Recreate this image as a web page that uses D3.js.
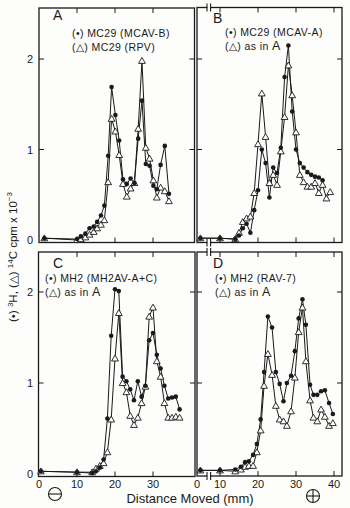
<!DOCTYPE html>
<html><head><meta charset="utf-8">
<script src="https://cdn.jsdelivr.net/npm/d3@7/dist/d3.min.js"></script>
<style>
html,body{margin:0;padding:0;background:#fdfdfb;}
svg{display:block;}
text{font-family:"Liberation Sans","DejaVu Sans",sans-serif;fill:#1a1a1a;}
</style></head>
<body>
<svg id="c" width="350" height="508"></svg>
<script>
// ---------- DATA ----------
const panelLetters = ["A", "B", "C", "D"];
const legendFilled = ["(\u2022) MC29 (MCAV-B)", "(\u2022) MC29 (MCAV-A)", "(\u2022) MH2 (MH2AV-A+C)", "(\u2022) MH2 (RAV-7)"];
const legendOpen = ["(\u25B3) MC29 (RPV)", "(\u25B3) as in ", "(\u25B3) as in ", "(\u25B3) as in "];
const yTicks = [0, 1, 2];
const xTicksAC = [0, 10, 20, 30];
const xTicksBD = [0, 10, 20, 30, 40];
const xLabel = "Distance Moved (mm)";

// Panel A
const xA = [1.4, 10, 11, 12.2, 13.3, 14.4, 15.3, 16.3, 17.2, 18.2, 19.1, 20.1, 21.1, 22.1, 23.1, 24.1, 25.1, 26.1, 27.1, 28.1, 29.1, 30.1, 31, 32, 33.1, 34.2];
const filledA = [0.02, 0.01, 0.04, 0.07, 0.13, 0.15, 0.2, 0.27, 0.38, 0.93, 1.69, 1.38, 1.1, 0.67, 0.62, 0.68, 0.63, 1.12, 1.54, 0.84, 0.82, 0.6, 0.56, 0.83, 1.04, 0.51];
const openA   = [0.02, 0.0, 0.01, 0.03, 0.06, 0.09, 0.13, 0.17, 0.22, 0.64, 1.34, 1.2, 0.94, 0.62, 0.48, 0.57, 0.63, 1.23, 1.98, 1.02, 0.9, 0.66, 0.47, 0.58, 0.54, 0.43];

// Panel B
const xB = [1.3, 10, 14, 15, 16, 17, 18, 19, 20, 21, 22, 23, 24, 25, 26, 27, 28, 29, 30, 31, 32, 33, 34, 35, 36, 37, 38, 39];
const filledB = [0.02, 0.02, 0.01, 0.05, 0.13, 0.18, 0.08, 0.33, 0.55, 1.0, 0.85, 0.47, 0.8, 0.74, 1.02, 1.8, 2.15, 1.42, 1.0, 0.85, 0.8, 0.75, 0.72, 0.7, 0.69, 0.66, null, null];
const openB   = [0.02, 0.02, 0.01, 0.08, 0.2, 0.24, 0.26, 0.52, 1.06, 1.62, 1.14, 0.63, 0.72, 0.61, 0.98, 1.36, 1.93, 1.6, 1.19, 0.72, 0.64, 0.59, 0.59, 0.63, 0.52, 0.61, 0.46, 0.53];

// Panel C
const xC = [0.5, 10, 14, 15, 16, 17, 18, 19, 20, 21, 22, 23, 24, 25, 26, 27, 28, 29, 30, 31, 32, 33, 34, 35, 36, 37];
const filledC = [0.03, 0.02, 0.01, 0.03, 0.07, 0.16, 0.61, 1.52, 2.03, 2.01, 1.07, 1.02, 0.93, 0.81, 1.02, 0.85, 0.97, 1.47, 1.55, 1.31, 1.16, 0.97, 0.83, 0.84, 0.85, 0.71];
const openC   = [0.03, 0.02, 0.02, 0.06, 0.09, 0.12, 0.24, 0.6, 1.27, 1.77, 1.0, 0.9, 0.64, 0.54, 0.62, 0.78, 0.96, 1.73, 1.83, 1.24, 1.07, 0.78, 0.62, 0.62, 0.63, 0.62];

// Panel D
const xD = [1.3, 10, 14, 15.5, 16.6, 17.6, 18.7, 19.7, 20.7, 21.6, 22.6, 23.7, 24.7, 25.7, 26.7, 27.6, 28.7, 29.7, 30.7, 31.7, 32.6, 33.7, 34.6, 35.6, 36.6, 37.6, 38.7, 39.7];
const filledD = [0.04, 0.04, 0.05, 0.08, 0.13, 0.14, 0.21, 0.33, 0.6, 1.12, 1.73, 1.61, 1.12, 0.99, 0.8, 1.0, 1.08, 1.35, 1.71, 1.92, 1.64, 0.98, 0.87, 0.87, 0.91, 0.92, 0.78, 0.66];
const openD   = [0.04, 0.04, 0.03, 0.05, 0.08, 0.09, 0.09, 0.24, 0.48, 0.97, 1.32, 1.09, 0.75, 0.6, 0.58, 0.53, 0.69, 1.06, 1.56, 1.83, 1.24, 0.81, 0.62, 0.58, 0.71, 0.63, 0.53, 0.56];

// ---------- LAYOUT ----------
const ink = "#1a1a1a";
const svg = d3.select("#c");
const panels = [
  {x: xA, f: filledA, o: openA, box: [39, 8, 194.5, 242.5], broken: false, ylab: true,  xlab: false,
   letterPos: [53, 20], legPos: [72, 36.5], legDy: 14.5},
  {x: xB, f: filledB, o: openB, box: [197, 7.5, 342, 242.5], broken: true, ylab: false, xlab: false,
   letterPos: [213, 23], legPos: [225, 35.5], legDy: 14.5},
  {x: xC, f: filledC, o: openC, box: [38.5, 252, 195, 476.5], broken: false, ylab: true, xlab: true,
   letterPos: [53, 268], legPos: [45, 281.5], legDy: 14.5},
  {x: xD, f: filledD, o: openD, box: [197, 252, 342, 476], broken: true, ylab: false, xlab: true,
   letterPos: [213, 268], legPos: [215, 281.5], legDy: 14.5}
];

panels.forEach((p, i) => {
  const [bx0, by0, bx1, by1] = p.box;
  const xs = p.broken
    ? d3.scaleLinear().domain([0, 10, 40]).range([197.5, 220, 334])
    : d3.scaleLinear().domain([0, 40]).range([39, 191]);
  const ys = i < 2
    ? d3.scaleLinear().domain([0, 2]).range([240, 59])
    : d3.scaleLinear().domain([0, 2]).range([474, 292]);
  const g = svg.append("g");

  // frame
  g.append("rect").attr("x", bx0).attr("y", by0).attr("width", bx1 - bx0).attr("height", by1 - by0)
    .attr("fill", "none").attr("stroke", ink).attr("stroke-width", 1.3);

  // y ticks (inward on both sides)
  const tk = 5;
  [1, 2].forEach(v => {
    g.append("line").attr("x1", bx0).attr("x2", bx0 + tk).attr("y1", ys(v)).attr("y2", ys(v)).attr("stroke", ink).attr("stroke-width", 1);
    g.append("line").attr("x1", bx1).attr("x2", bx1 - tk).attr("y1", ys(v)).attr("y2", ys(v)).attr("stroke", ink).attr("stroke-width", 1);
  });
  // x ticks
  const xt = p.broken ? [10, 20, 30, 40] : [10, 20, 30];
  xt.forEach(v => {
    g.append("line").attr("x1", xs(v)).attr("x2", xs(v)).attr("y1", by0).attr("y2", by0 + tk).attr("stroke", ink).attr("stroke-width", 1);
    g.append("line").attr("x1", xs(v)).attr("x2", xs(v)).attr("y1", by1).attr("y2", by1 - tk).attr("stroke", ink).attr("stroke-width", 1);
  });

  // y tick labels
  if (p.ylab) {
    yTicks.forEach(v => {
      g.append("text").attr("x", 30).attr("y", ys(v) + 4).attr("text-anchor", "middle")
        .attr("font-size", 11).text(v);
    });
  }
  // x tick labels
  if (p.xlab) {
    const labs = p.broken ? xTicksBD : xTicksAC;
    labs.forEach(v => {
      const px = (p.broken && v === 0) ? 197 : xs(v);
      g.append("text").attr("x", px).attr("y", 488).attr("text-anchor", "middle")
        .attr("font-size", 11).text(v);
    });
  }

  // series lines
  const pts = (vals) => p.x.map((xv, k) => ({x: xv, y: vals[k]})).filter(d => d.y !== null);
  const line = d3.line().x(d => xs(d.x)).y(d => ys(d.y));
  g.append("path").attr("d", line(pts(p.o))).attr("fill", "none").attr("stroke", ink).attr("stroke-width", 1);
  g.append("path").attr("d", line(pts(p.f))).attr("fill", "none").attr("stroke", ink).attr("stroke-width", 1);

  // markers
  const tri = d3.symbol().type(d3.symbolTriangle).size(20);
  g.selectAll(".t").data(pts(p.o)).join("path")
    .attr("d", tri).attr("transform", d => `translate(${xs(d.x)},${ys(d.y) + 0.6})`)
    .attr("fill", "#fff").attr("stroke", ink).attr("stroke-width", 0.9);
  g.selectAll(".c").data(pts(p.f)).join("circle")
    .attr("cx", d => xs(d.x)).attr("cy", d => ys(d.y)).attr("r", 2.3).attr("fill", ink);

  // axis break marks
  if (p.broken) {
    [by0, by1].forEach(by => {
      g.append("rect").attr("x", 207.3).attr("y", by - 2).attr("width", 3).attr("height", 4).attr("fill", "#fdfdfb");
      [207, 210.6].forEach(bx => {
        g.append("line").attr("x1", bx).attr("x2", bx).attr("y1", by - 4).attr("y2", by + 4)
          .attr("stroke", ink).attr("stroke-width", 1.1);
      });
    });
  }

  // letter + legend
  g.append("text").attr("x", p.letterPos[0]).attr("y", p.letterPos[1]).attr("font-size", 14).text(panelLetters[i]);
  g.append("text").attr("x", p.legPos[0]).attr("y", p.legPos[1]).attr("font-size", 10.5)
    .attr("letter-spacing", 0.4).text(legendFilled[i]);
  const t2 = g.append("text").attr("x", p.legPos[0]).attr("y", p.legPos[1] + p.legDy).attr("font-size", 10.5)
    .attr("letter-spacing", 0.4);
  t2.append("tspan").text(legendOpen[i]);
  if (i > 0) t2.append("tspan").attr("font-size", 12.5).text("A");
});

// x axis title
svg.append("text").attr("x", 190).attr("y", 503).attr("text-anchor", "middle").attr("font-size", 13).text(xLabel);

// electrode symbols
function electrode(cx, cy, plus) {
  const g = svg.append("g");
  g.append("circle").attr("cx", cx).attr("cy", cy).attr("r", 6.5).attr("fill", "none").attr("stroke", ink).attr("stroke-width", 1.1);
  g.append("line").attr("x1", cx - 6.5).attr("x2", cx + 6.5).attr("y1", cy).attr("y2", cy).attr("stroke", ink).attr("stroke-width", 1.1);
  if (plus) g.append("line").attr("x1", cx).attr("x2", cx).attr("y1", cy - 6.5).attr("y2", cy + 6.5).attr("stroke", ink).attr("stroke-width", 1.1);
}
electrode(55, 494, false);
electrode(313, 496, true);

// y axis title (rotated)
const yt = svg.append("text").attr("transform", "translate(17,257) rotate(-90)")
  .attr("text-anchor", "middle").attr("font-size", 11.5);
yt.append("tspan").text("(\u2022) ");
yt.append("tspan").attr("font-size", 8).attr("dy", -4).text("3");
yt.append("tspan").attr("dy", 4).text("H, (\u25B3) ");
yt.append("tspan").attr("font-size", 8).attr("dy", -4).text("14");
yt.append("tspan").attr("dy", 4).text("C cpm x 10");
yt.append("tspan").attr("font-size", 8).attr("dy", -5).text("\u22123");
</script>
</body></html>
